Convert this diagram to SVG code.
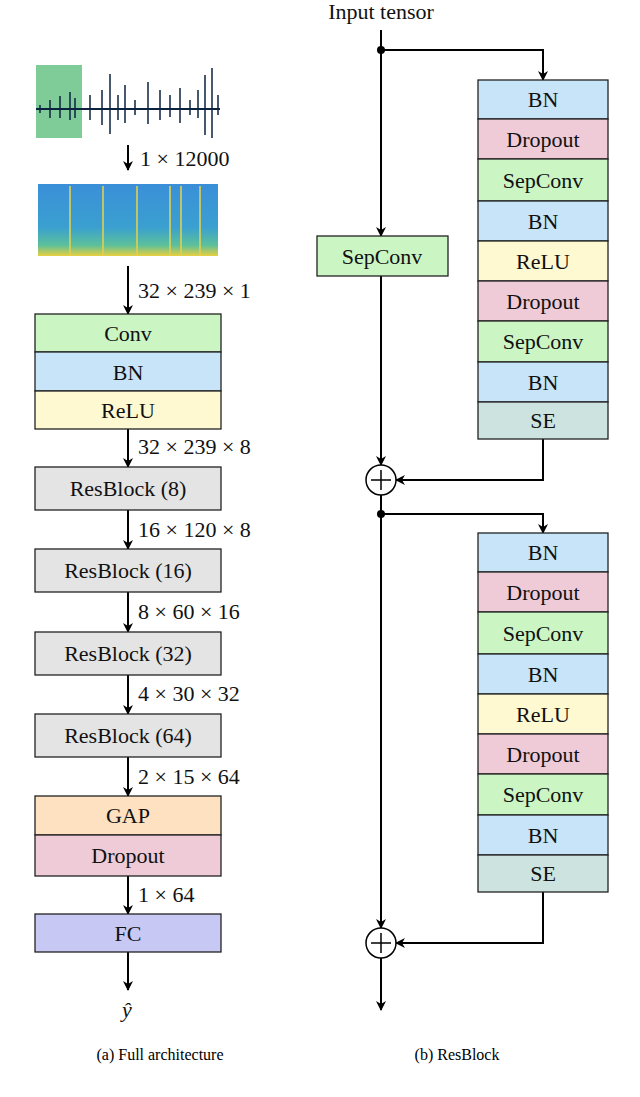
<svg xmlns="http://www.w3.org/2000/svg" width="640" height="1097" viewBox="0 0 640 1097">
<defs>
<style>
.b{stroke:#222;stroke-width:1.3}
.t{font-family:"Liberation Serif",serif;font-size:22px;text-anchor:middle;fill:#111}
.l{font-family:"Liberation Serif",serif;font-size:22px;fill:#111}
.c{stroke:#000;stroke-width:2;fill:none}
.g{fill:#ccf5c4}.bl{fill:#c8e4f8}.y{fill:#fef9d0}.p{fill:#efcbd8}.gr{fill:#e4e4e4}.o{fill:#fde1c1}.pu{fill:#c8c8f4}.se{fill:#cce3e0}
</style>
<marker id="a" viewBox="0 0 10 10" refX="9" refY="5" markerWidth="5" markerHeight="5" orient="auto"><path d="M0,0 L10,5 L0,10 L3,5 Z" fill="#000"/></marker>
<linearGradient id="sp" x1="0" y1="0" x2="0" y2="1"><stop offset="0" stop-color="#3a8fd8"/><stop offset="0.6" stop-color="#3aa0d0"/><stop offset="0.85" stop-color="#5cc09a"/><stop offset="1" stop-color="#e8d040"/></linearGradient>
</defs>
<rect width="640" height="1097" fill="#fff"/>
<g id="waveform">
<rect x="36" y="65" width="46" height="73" fill="#80cc98"/>
<line x1="36" y1="109" x2="220" y2="109" stroke="#0c2340" stroke-width="2"/>
<path d="M40,105v8M50,100v18M60,96v22M70,92v28M75,98v20M90,95v25M102,90v35M110,74v60M118,95v25M125,85v38M135,100v15M148,82v42M160,90v30M170,95v22M180,88v35M190,100v15M198,90v28M205,75v60M212,68v70M218,95v20" stroke="#0c2340" stroke-width="1.5"/>
</g>
<g id="spectrogram">
<rect x="38" y="184" width="180" height="72" fill="url(#sp)"/>
<path d="M70,186v70M103,186v70M137,186v70M170,186v70M181,186v70M200,186v70" stroke="#e0d050" stroke-width="2" opacity="0.8"/>
</g>
<g id="inputtensor"><text class="t" x="381" y="19">Input tensor</text></g>
<g id="connectors">
<line class="c" x1="128" y1="145" x2="128" y2="170" marker-end="url(#a)"/>
<line class="c" x1="128" y1="266" x2="128" y2="314" marker-end="url(#a)"/>
<line class="c" x1="128" y1="429" x2="128" y2="467" marker-end="url(#a)"/>
<line class="c" x1="128" y1="510" x2="128" y2="549" marker-end="url(#a)"/>
<line class="c" x1="128" y1="592" x2="128" y2="632" marker-end="url(#a)"/>
<line class="c" x1="128" y1="675" x2="128" y2="714" marker-end="url(#a)"/>
<line class="c" x1="128" y1="757" x2="128" y2="796" marker-end="url(#a)"/>
<line class="c" x1="128" y1="876" x2="128" y2="914" marker-end="url(#a)"/>
<line class="c" x1="128" y1="952" x2="128" y2="990" marker-end="url(#a)"/>
<line class="c" x1="381" y1="30" x2="381" y2="236" marker-end="url(#a)"/>
<line class="c" x1="381" y1="276" x2="381" y2="465" marker-end="url(#a)"/>
<polyline class="c" points="381,50 543,50 543,80" marker-end="url(#a)"/>
<polyline class="c" points="543,439 543,480 396,480" marker-end="url(#a)"/>
<line class="c" x1="381" y1="495" x2="381" y2="928" marker-end="url(#a)"/>
<polyline class="c" points="381,514 543,514 543,533" marker-end="url(#a)"/>
<polyline class="c" points="543,892 543,943 396,943" marker-end="url(#a)"/>
<line class="c" x1="381" y1="958" x2="381" y2="1010" marker-end="url(#a)"/>
<circle cx="381" cy="50" r="4"/><circle cx="381" cy="514" r="4"/>
<circle cx="381" cy="480" r="15" fill="#fff" stroke="#000" stroke-width="1.5"/>
<path d="M371,480h20M381,470v20" stroke="#000" stroke-width="1.5"/>
<circle cx="381" cy="943" r="15" fill="#fff" stroke="#000" stroke-width="1.5"/>
<path d="M371,943h20M381,933v20" stroke="#000" stroke-width="1.5"/>
</g>
<g id="labels">
<text class="l" x="140" y="166">1 × 12000</text>
<text class="l" x="138" y="298">32 × 239 × 1</text>
<text class="l" x="138" y="454">32 × 239 × 8</text>
<text class="l" x="138" y="537">16 × 120 × 8</text>
<text class="l" x="138" y="619">8 × 60 × 16</text>
<text class="l" x="138" y="701">4 × 30 × 32</text>
<text class="l" x="138" y="784">2 × 15 × 64</text>
<text class="l" x="138" y="902">1 × 64</text>
<text class="l" x="122" y="1017" font-style="italic">ŷ</text>
</g>
<g id="conv"><rect class="b g" x="35" y="314" width="186" height="38"/><text class="t" x="128" y="341">Conv</text></g>
<g id="bn0"><rect class="b bl" x="35" y="352" width="186" height="39"/><text class="t" x="128" y="380">BN</text></g>
<g id="relu0"><rect class="b y" x="35" y="391" width="186" height="38"/><text class="t" x="128" y="418">ReLU</text></g>
<g id="rb8"><rect class="b gr" x="35" y="467" width="186" height="43"/><text class="t" x="128" y="496">ResBlock (8)</text></g>
<g id="rb16"><rect class="b gr" x="35" y="549" width="186" height="43"/><text class="t" x="128" y="578">ResBlock (16)</text></g>
<g id="rb32"><rect class="b gr" x="35" y="632" width="186" height="43"/><text class="t" x="128" y="661">ResBlock (32)</text></g>
<g id="rb64"><rect class="b gr" x="35" y="714" width="186" height="43"/><text class="t" x="128" y="743">ResBlock (64)</text></g>
<g id="gap"><rect class="b o" x="35" y="796" width="186" height="39"/><text class="t" x="128" y="823">GAP</text></g>
<g id="dropout0"><rect class="b p" x="35" y="835" width="186" height="41"/><text class="t" x="128" y="863">Dropout</text></g>
<g id="fc"><rect class="b pu" x="35" y="914" width="186" height="38"/><text class="t" x="128" y="941">FC</text></g>
<g id="sepconv_skip"><rect class="b g" x="317" y="236" width="131" height="40"/><text class="t" x="382" y="264">SepConv</text></g>
<g id="stack1">
<rect class="b bl" x="478" y="80" width="130" height="39"/><text class="t" x="543" y="107">BN</text>
<rect class="b p" x="478" y="119" width="130" height="40"/><text class="t" x="543" y="147">Dropout</text>
<rect class="b g" x="478" y="159" width="130" height="42"/><text class="t" x="543" y="188">SepConv</text>
<rect class="b bl" x="478" y="201" width="130" height="40"/><text class="t" x="543" y="229">BN</text>
<rect class="b y" x="478" y="241" width="130" height="40"/><text class="t" x="543" y="269">ReLU</text>
<rect class="b p" x="478" y="281" width="130" height="40"/><text class="t" x="543" y="309">Dropout</text>
<rect class="b g" x="478" y="321" width="130" height="41"/><text class="t" x="543" y="349">SepConv</text>
<rect class="b bl" x="478" y="362" width="130" height="40"/><text class="t" x="543" y="390">BN</text>
<rect class="b se" x="478" y="402" width="130" height="37"/><text class="t" x="543" y="428">SE</text>
</g>
<g id="stack2" transform="translate(0,453)">
<rect class="b bl" x="478" y="80" width="130" height="39"/><text class="t" x="543" y="107">BN</text>
<rect class="b p" x="478" y="119" width="130" height="40"/><text class="t" x="543" y="147">Dropout</text>
<rect class="b g" x="478" y="159" width="130" height="42"/><text class="t" x="543" y="188">SepConv</text>
<rect class="b bl" x="478" y="201" width="130" height="40"/><text class="t" x="543" y="229">BN</text>
<rect class="b y" x="478" y="241" width="130" height="40"/><text class="t" x="543" y="269">ReLU</text>
<rect class="b p" x="478" y="281" width="130" height="40"/><text class="t" x="543" y="309">Dropout</text>
<rect class="b g" x="478" y="321" width="130" height="41"/><text class="t" x="543" y="349">SepConv</text>
<rect class="b bl" x="478" y="362" width="130" height="40"/><text class="t" x="543" y="390">BN</text>
<rect class="b se" x="478" y="402" width="130" height="37"/><text class="t" x="543" y="428">SE</text>
</g>
<g id="captions">
<text x="160" y="1060" font-family="Liberation Serif,serif" font-size="16" text-anchor="middle">(a) Full architecture</text>
<text x="457" y="1060" font-family="Liberation Serif,serif" font-size="16" text-anchor="middle">(b) ResBlock</text>
</g>
</svg>
